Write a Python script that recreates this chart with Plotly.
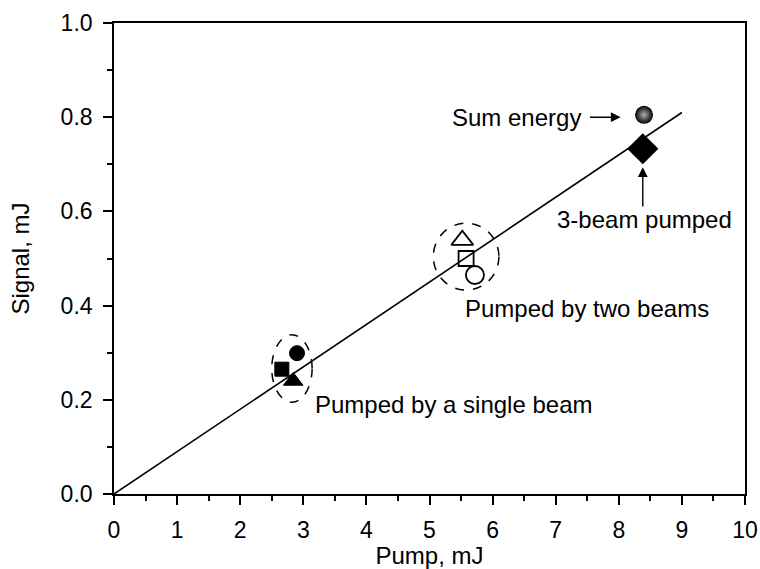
import plotly.graph_objects as go

# Data
single_x = [2.66, 2.90, 2.84]
single_y = [0.265, 0.299, 0.240]
single_sym = ["square", "circle", "triangle-up"]
single_size = [14, 15, 17]

two_x = [5.52, 5.58, 5.72]
two_y = [0.539, 0.500, 0.465]
two_sym = ["triangle-up-open", "square-open", "circle-open"]
two_size = [19, 15, 18]

sum_x = [8.40]
sum_y = [0.805]
three_x = [8.38]
three_y = [0.733]

fit_x = [0, 9]
fit_y = [0.0, 0.81]

x_ticks = list(range(0, 11))
y_ticks = [0.0, 0.2, 0.4, 0.6, 0.8, 1.0]

FONT = "Liberation Sans, Arial, sans-serif"

fig = go.Figure()
fig.add_trace(go.Scatter(x=fit_x, y=fit_y, mode="lines",
                         line=dict(color="black", width=1.6), showlegend=False))
fig.add_trace(go.Scatter(x=single_x, y=single_y, mode="markers",
                         marker=dict(symbol=single_sym, size=single_size, color="black",
                                     opacity=1, line=dict(width=1, color="black")),
                         showlegend=False))
fig.add_trace(go.Scatter(x=two_x, y=two_y, mode="markers",
                         marker=dict(symbol=two_sym, size=two_size, color="black",
                                     opacity=1, line=dict(width=1.8, color="black")),
                         showlegend=False))
fig.add_trace(go.Scatter(x=three_x, y=three_y, mode="markers",
                         marker=dict(symbol="diamond", size=24, color="black",
                                     opacity=1, line=dict(width=0)), showlegend=False))
fig.add_trace(go.Scatter(x=sum_x, y=sum_y, mode="markers",
                         marker=dict(symbol="circle", size=18, color="black", opacity=1,
                                     gradient=dict(type="radial", color="#b0b0b0"),
                                     line=dict(width=0)), showlegend=False))

# dashed ellipses
ellipses = [(2.50, 0.195, 3.14, 0.338), (5.06, 0.433, 6.10, 0.575)]
for x0, y0, x1, y1 in ellipses:
    fig.add_shape(type="circle", xref="x", yref="y", x0=x0, y0=y0, x1=x1, y1=y1,
                  line=dict(color="black", width=1.5, dash="dash"))

tfont = dict(family=FONT, size=24, color="black")
labels = [
    ("Sum energy", 7.43, 0.800, "right"),
    ("3-beam pumped", 6.99, 0.582, "left"),
    ("Pumped by two beams", 5.53, 0.393, "left"),
    ("Pumped by a single beam", 3.15, 0.191, "left"),
]
for txt, x, y, anc in labels:
    fig.add_annotation(x=x, y=y, text=txt, showarrow=False, xanchor=anc,
                       yanchor="middle", font=tfont)

# arrows
fig.add_annotation(x=8.03, y=0.80, ax=7.52, ay=0.80, axref="x", ayref="y", text="",
                   showarrow=True, arrowhead=2, arrowsize=1.4, arrowwidth=1.4, arrowcolor="black")
fig.add_annotation(x=8.38, y=0.694, ax=8.38, ay=0.607, axref="x", ayref="y", text="",
                   showarrow=True, arrowhead=2, arrowsize=1.4, arrowwidth=1.4, arrowcolor="black")

axis_common = dict(showline=True, linecolor="black", linewidth=1.6, mirror=True,
                   ticks="outside", ticklen=9, tickwidth=1.6, tickcolor="black",
                   showgrid=False, zeroline=False, automargin=False,
                   tickfont=dict(family=FONT, size=23, color="black"),
                   ticklabelstandoff=6)

fig.update_xaxes(range=[0, 10], tickvals=x_ticks, ticktext=[str(v) for v in x_ticks],
                 minor=dict(dtick=0.5, ticks="outside", ticklen=5, tickwidth=1.6, tickcolor="black", tick0=0),
                 title=dict(text="Pump, mJ", font=dict(family=FONT, size=24, color="black"), standoff=10),
                 **axis_common)
fig.update_yaxes(range=[0, 1.0], tickvals=y_ticks, ticktext=[f"{v:.1f}" for v in y_ticks],
                 minor=dict(dtick=0.1, ticks="outside", ticklen=5, tickwidth=1.6, tickcolor="black", tick0=0),
                 title=dict(text="Signal, mJ", font=dict(family=FONT, size=24, color="black"), standoff=24),
                 **axis_common)

fig.update_layout(width=760, height=569, margin=dict(l=114, r=15, t=23, b=75),
                  plot_bgcolor="white", paper_bgcolor="white")

fig.write_html("out.html")
